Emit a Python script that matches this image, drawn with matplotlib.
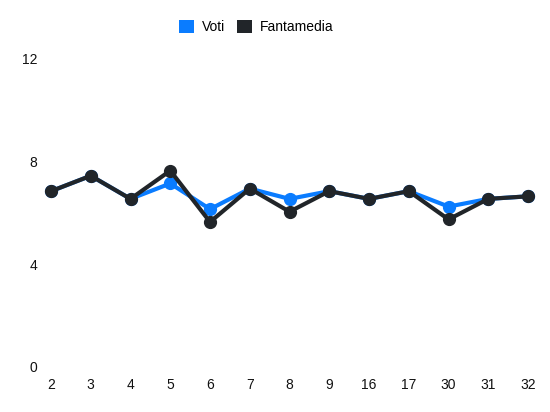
import matplotlib
matplotlib.use("Agg")
import matplotlib.pyplot as plt
from matplotlib.patches import Patch

giornate = ["2", "3", "4", "5", "6", "7", "8", "9", "16", "17", "30", "31", "32"]
voti = [6.85, 7.45, 6.55, 7.15, 6.15, 6.95, 6.55, 6.85, 6.55, 6.85, 6.25, 6.55, 6.65]
fantamedia = [6.85, 7.45, 6.55, 7.65, 5.65, 6.95, 6.05, 6.85, 6.55, 6.85, 5.75, 6.55, 6.65]

BLUE = "#0a7cff"
DARK = "#212529"

plt.rcParams["font.family"] = ["Liberation Sans", "DejaVu Sans"]

W, H = 550, 412
fig = plt.figure(figsize=(W / 100, H / 100), dpi=100)
# axes box in pixels: x 40..540, y 59..367
ax = fig.add_axes([40 / W, (H - 367) / H, 500 / W, 308 / H])

x = list(range(len(giornate)))
ax.plot(x, voti, color=BLUE, lw=3, marker="o", ms=8.5, clip_on=False, zorder=2)
ax.plot(x, fantamedia, color=DARK, lw=3, marker="o", ms=8.5, clip_on=False, zorder=3)

ax.set_xlim(-0.277, 12.30)
ax.set_ylim(0, 12)
ax.set_xticks(x)
ax.set_xticklabels(giornate)
ax.set_yticks([0, 4, 8, 12])
ax.tick_params(length=0, labelsize=10, colors="#111111")
ax.tick_params(axis="x", pad=8)
ax.tick_params(axis="y", pad=2)
for s in ax.spines.values():
    s.set_visible(False)

handles = [Patch(facecolor=BLUE, edgecolor="none"), Patch(facecolor=DARK, edgecolor="none")]
fig.legend(handles, ["Voti", "Fantamedia"], loc="center", bbox_to_anchor=(0.466, 1 - 27 / H),
           ncol=2, frameon=False, fontsize=10, handlelength=1.1, handleheight=1.1,
           handletextpad=0.6, columnspacing=0.8)

fig.savefig("out.png", dpi=100)
